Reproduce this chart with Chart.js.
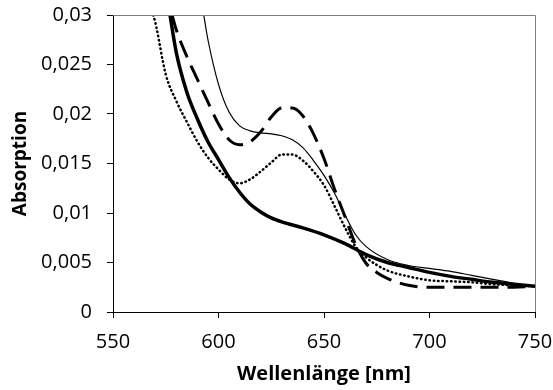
<!DOCTYPE html>
<html>
<head>
<meta charset="utf-8">
<script src="https://cdn.jsdelivr.net/npm/chart.js@4"></script>
<style>
  html, body { margin: 0; padding: 0; background: #fff; }
  #wrap { width: 553px; height: 390px; }
</style>
</head>
<body>
<div id="wrap"><canvas id="chart" width="553" height="390"></canvas></div>
<script>
// Wavelength axis ticks
const xTicks = [550, 600, 650, 700, 750];
const yTicks = [0, 0.005, 0.01, 0.015, 0.02, 0.025, 0.03];

// Thick solid curve
const thickX = [577, 580, 585, 590, 595, 600, 605, 610, 615, 620, 625, 630, 640, 650, 660, 670, 680, 690, 700, 710, 720, 730, 740, 750];
const thickY = [0.030, 0.0262, 0.0222, 0.0195, 0.0172, 0.0154, 0.0136, 0.0121, 0.0109, 0.0101, 0.0095, 0.0091, 0.0085, 0.0078, 0.0069, 0.0058, 0.0050, 0.0045, 0.0040, 0.0036, 0.0033, 0.0030, 0.0028, 0.0026];

// Thin solid curve
const thinX = [593, 595, 600, 605, 610, 615, 620, 625, 630, 635, 640, 645, 650, 655, 660, 665, 670, 680, 690, 700, 710, 720, 730, 740, 750];
const thinY = [0.030, 0.0275, 0.0230, 0.0202, 0.0188, 0.0183, 0.0181, 0.0180, 0.0178, 0.0174, 0.0166, 0.0153, 0.0138, 0.0120, 0.0098, 0.0078, 0.0066, 0.0053, 0.0047, 0.0044, 0.0041, 0.0037, 0.0033, 0.0029, 0.0026];

// Dashed curve
const dashX = [578, 580, 585, 590, 595, 600, 605, 610, 615, 620, 625, 630, 635, 640, 645, 650, 655, 660, 665, 670, 675, 680, 690, 700, 720, 740, 750];
const dashY = [0.030, 0.0285, 0.0258, 0.0235, 0.0212, 0.0190, 0.0174, 0.0169, 0.0172, 0.0182, 0.0197, 0.0206, 0.0206, 0.0198, 0.0180, 0.0155, 0.0124, 0.0096, 0.0068, 0.0049, 0.0040, 0.0034, 0.0027, 0.0025, 0.0025, 0.0025, 0.0026];

// Dotted curve
const dotX = [569, 570, 575, 580, 585, 590, 595, 600, 605, 610, 615, 620, 625, 630, 635, 640, 645, 650, 655, 660, 665, 670, 680, 690, 700, 710, 720, 730, 740, 750];
const dotY = [0.030, 0.0293, 0.0240, 0.0213, 0.0192, 0.0172, 0.0156, 0.0144, 0.0134, 0.0130, 0.0134, 0.0142, 0.0151, 0.0159, 0.0159, 0.0153, 0.0142, 0.0128, 0.0107, 0.0085, 0.0066, 0.0055, 0.0042, 0.0036, 0.0032, 0.0031, 0.0030, 0.0028, 0.0027, 0.0026];

function toPoints(xs, ys) {
    return xs.map((x, i) => ({ x: x, y: ys[i] }));
}

function makeSeries(xs, ys, width, dash, cap) {
    return {
        data: toPoints(xs, ys),
        borderColor: '#000',
        borderWidth: width,
        borderDash: dash,
        borderCapStyle: cap || 'butt',
        pointRadius: 0,
        fill: false,
        cubicInterpolationMode: 'monotone'
    };
}

// Thin gray frame on top and right of the plot
const framePlugin = {
    id: 'frame',
    afterDraw(chart) {
        const a = chart.chartArea;
        const ctx = chart.ctx;
        ctx.save();
        ctx.strokeStyle = '#7f7f7f';
        ctx.lineWidth = 1;
        ctx.beginPath();
        ctx.moveTo(a.left, a.top + 0.5);
        ctx.lineTo(a.right + 0.5, a.top + 0.5);
        ctx.lineTo(a.right + 0.5, a.bottom);
        ctx.stroke();
        ctx.restore();
    }
};

const fmt = v => String(Math.round(v * 1000) / 1000).replace('.', ',');

new Chart(document.getElementById('chart'), {
    type: 'line',
    data: {
        datasets: [
            makeSeries(thickX, thickY, 3.5, []),
            makeSeries(thinX, thinY, 1.2, []),
            makeSeries(dashX, dashY, 3, [18, 9]),
            makeSeries(dotX, dotY, 2.5, [0.5, 3.8], 'round')
        ]
    },
    options: {
        responsive: false,
        animation: false,
        events: [],
        layout: { padding: { left: 0, right: 18, top: 15, bottom: 0 } },
        plugins: { legend: { display: false }, tooltip: { enabled: false } },
        scales: {
            x: {
                type: 'linear',
                min: 550,
                max: 750,
                afterBuildTicks: s => { s.ticks = xTicks.map(v => ({ value: v })); },
                afterFit: s => { s.height = 78; s.paddingLeft = 0; s.paddingRight = 0; },
                grid: { display: true, drawOnChartArea: false, drawTicks: true, tickLength: 6, color: '#000' },
                border: { display: true, color: '#000', width: 1 },
                ticks: { color: '#000', padding: 12, font: { family: 'Open Sans', size: 20 }, maxRotation: 0 },
                title: { display: true, text: 'Wellenlänge [nm]', color: '#000', font: { family: 'Open Sans', size: 20, weight: 'bold' }, padding: { top: 0, bottom: 4 } }
            },
            y: {
                type: 'linear',
                min: 0,
                max: 0.03,
                afterBuildTicks: s => { s.ticks = yTicks.map(v => ({ value: v })); },
                afterFit: s => { s.width = 113; s.paddingTop = 0; s.paddingBottom = 0; },
                grid: { display: true, drawOnChartArea: false, drawTicks: true, tickLength: 6, color: '#000' },
                border: { display: true, color: '#000', width: 1 },
                ticks: { color: '#000', padding: 15, font: { family: 'Open Sans', size: 20 }, callback: v => fmt(v) },
                title: { display: true, text: 'Absorption', color: '#000', font: { family: 'Open Sans', size: 19, weight: 'bold' }, padding: { top: 9, bottom: 0 } }
            }
        }
    },
    plugins: [framePlugin]
});
</script>
</body>
</html>
